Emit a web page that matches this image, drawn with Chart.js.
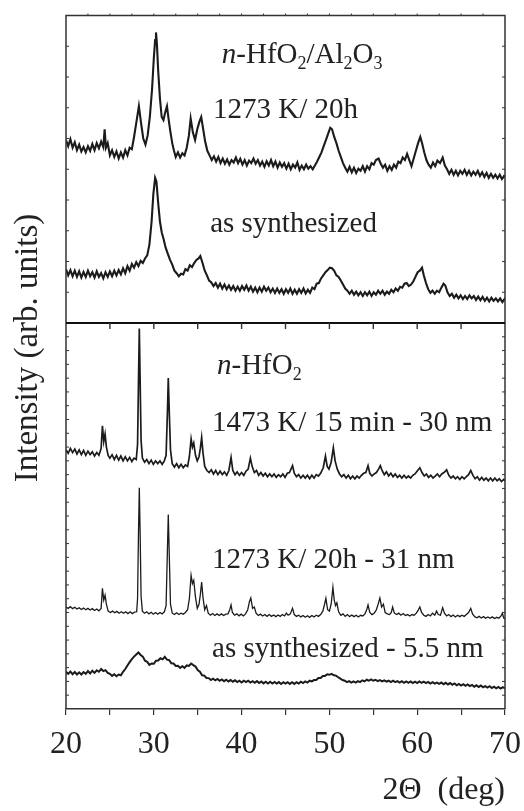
<!DOCTYPE html>
<html>
<head>
<meta charset="utf-8">
<script src="https://cdn.jsdelivr.net/npm/chart.js@4/dist/chart.umd.min.js"></script>
<style>
  html, body { margin: 0; padding: 0; background: #fff; }
  #wrap { width: 524px; height: 811px; }
</style>
</head>
<body>
<div id="wrap"><canvas id="c" width="524" height="811"></canvas></div>
<script>
// ---------------- DATA ----------------
// x: 2Θ in degrees, y: arbitrary intensity units of its panel
// Top panel (n-HfO2/Al2O3), y units 0..10
const composite1273 = [
[20.00,5.95],[20.25,5.75],[20.50,5.98],[20.75,5.70],[21.00,5.88],[21.25,5.62],[21.50,5.80],[21.75,5.58],
[22.00,5.72],[22.25,5.55],[22.50,5.75],[22.75,5.60],[23.00,5.82],[23.25,5.62],[23.50,5.85],[23.75,5.68],
[24.00,5.90],[24.25,5.72],[24.40,6.30],[24.55,5.70],[24.75,5.85],[25.00,5.45],[25.25,5.62],[25.50,5.40],
[25.75,5.58],[26.00,5.35],[26.25,5.55],[26.50,5.38],[26.75,5.62],[27.00,5.45],[27.25,5.70],[27.50,5.65],
[27.75,6.05],[28.00,6.50],[28.30,7.05],[28.55,6.50],[28.80,6.00],[29.05,5.80],[29.30,6.10],[29.55,6.70],
[29.80,7.60],[30.00,8.60],[30.15,9.20],[30.25,9.45],[30.35,9.10],[30.50,8.20],[30.70,7.30],[30.90,6.70],
[31.10,6.60],[31.30,6.85],[31.50,7.05],[31.70,6.60],[31.90,6.20],[32.10,5.85],[32.30,5.60],[32.50,5.40],
[32.75,5.55],[33.00,5.38],[33.25,5.52],[33.50,5.45],[33.75,5.70],[34.00,6.10],[34.20,6.65],[34.45,6.20],
[34.70,5.95],[34.95,6.30],[35.20,6.55],[35.40,6.70],[35.60,6.35],[35.85,5.90],[36.10,5.60],[36.35,5.45],
[36.60,5.30],[36.85,5.42],[37.10,5.25],[37.35,5.40],[37.60,5.20],[37.85,5.35],[38.10,5.18],[38.35,5.32],
[38.60,5.15],[38.85,5.30],[39.10,5.22],[39.35,5.38],[39.60,5.20],[39.85,5.34],[40.10,5.15],[40.35,5.30],
[40.60,5.12],[40.85,5.28],[41.10,5.20],[41.35,5.35],[41.60,5.18],[41.85,5.30],[42.10,5.12],[42.35,5.25],
[42.60,5.08],[42.85,5.26],[43.10,5.12],[43.35,5.30],[43.60,5.10],[43.85,5.25],[44.10,5.05],[44.35,5.22],
[44.60,5.08],[44.85,5.20],[45.10,5.02],[45.35,5.18],[45.60,5.00],[45.85,5.15],[46.10,5.05],[46.35,5.22],
[46.60,4.98],[46.85,5.12],[47.10,5.00],[47.35,5.15],[47.60,5.02],[47.85,5.10],[48.10,5.00],[48.35,5.12],
[48.60,5.25],[48.85,5.40],[49.10,5.55],[49.35,5.75],[49.60,5.95],[49.85,6.15],[50.10,6.35],[50.30,6.30],
[50.55,6.05],[50.80,5.85],[51.05,5.60],[51.30,5.40],[51.55,5.20],[51.80,5.05],[52.05,4.92],[52.30,5.08],
[52.55,4.90],[52.80,5.05],[53.05,4.88],[53.30,5.02],[53.55,4.95],[53.80,5.10],[54.05,4.92],[54.30,5.10],
[54.55,5.00],[54.80,5.20],[55.05,5.15],[55.30,5.30],[55.60,5.35],[55.85,5.18],[56.10,5.05],[56.35,5.15],
[56.60,4.95],[56.85,5.10],[57.10,4.98],[57.35,5.15],[57.60,5.05],[57.85,5.25],[58.10,5.20],[58.35,5.38],
[58.60,5.30],[58.85,5.50],[59.10,5.30],[59.35,5.10],[59.60,5.35],[59.85,5.60],[60.10,5.85],[60.35,6.05],
[60.55,5.85],[60.80,5.55],[61.05,5.30],[61.30,5.15],[61.55,5.05],[61.80,5.22],[62.05,5.10],[62.30,5.28],
[62.60,5.20],[62.90,5.38],[63.15,5.12],[63.40,5.00],[63.65,4.85],[63.90,4.98],[64.15,4.82],[64.40,4.95],
[64.65,4.80],[64.90,4.95],[65.15,4.85],[65.40,4.98],[65.65,4.82],[65.90,4.95],[66.15,4.80],[66.40,4.92],
[66.65,4.82],[66.90,4.95],[67.15,4.78],[67.40,4.90],[67.65,4.75],[67.90,4.88],[68.15,4.72],[68.40,4.85],
[68.65,4.72],[68.90,4.82],[69.15,4.70],[69.40,4.82],[69.65,4.68],[69.90,4.78],[70.00,4.75]
];
const compositeSynth = [
[20.00,1.75],[20.25,1.55],[20.50,1.72],[20.75,1.52],[21.00,1.70],[21.25,1.50],[21.50,1.68],[21.75,1.48],
[22.00,1.66],[22.25,1.50],[22.50,1.70],[22.75,1.52],[23.00,1.65],[23.25,1.48],[23.50,1.68],[23.75,1.50],
[24.00,1.62],[24.25,1.45],[24.50,1.65],[24.75,1.50],[25.00,1.68],[25.25,1.52],[25.50,1.70],[25.75,1.55],
[26.00,1.72],[26.25,1.58],[26.50,1.78],[26.75,1.62],[27.00,1.85],[27.25,1.70],[27.50,1.92],[27.75,1.80],
[28.00,1.98],[28.25,1.85],[28.50,2.02],[28.75,1.95],[29.00,2.10],[29.25,2.20],[29.50,2.55],[29.75,3.30],
[29.95,4.20],[30.15,4.72],[30.30,4.60],[30.50,3.90],[30.70,3.30],[30.90,2.95],[31.10,2.75],[31.35,2.45],
[31.60,2.25],[31.85,2.05],[32.10,1.90],[32.35,1.70],[32.60,1.62],[32.85,1.52],[33.10,1.60],[33.35,1.58],
[33.60,1.75],[33.85,1.70],[34.10,1.88],[34.35,1.82],[34.60,1.95],[34.85,2.05],[35.10,2.10],[35.30,2.18],
[35.55,1.95],[35.80,1.70],[36.05,1.55],[36.30,1.38],[36.55,1.32],[36.80,1.20],[37.05,1.30],[37.30,1.15],
[37.55,1.28],[37.80,1.12],[38.05,1.25],[38.30,1.10],[38.55,1.22],[38.80,1.08],[39.05,1.20],[39.30,1.05],
[39.55,1.18],[39.80,1.05],[40.05,1.20],[40.30,1.08],[40.55,1.22],[40.80,1.05],[41.05,1.18],[41.30,1.02],
[41.55,1.15],[41.80,1.00],[42.05,1.15],[42.30,1.02],[42.55,1.18],[42.80,1.05],[43.05,1.15],[43.30,1.00],
[43.55,1.12],[43.80,0.98],[44.05,1.12],[44.30,0.98],[44.55,1.10],[44.80,0.95],[45.05,1.10],[45.30,0.98],
[45.55,1.12],[45.80,0.95],[46.05,1.08],[46.30,0.95],[46.55,1.10],[46.80,0.98],[47.05,1.12],[47.30,0.96],
[47.55,1.08],[47.80,0.98],[48.05,1.15],[48.30,1.10],[48.55,1.28],[48.80,1.30],[49.05,1.45],[49.30,1.55],
[49.55,1.65],[49.80,1.72],[50.05,1.80],[50.30,1.78],[50.55,1.70],[50.80,1.55],[51.05,1.50],[51.30,1.38],
[51.55,1.25],[51.80,1.12],[52.05,1.05],[52.30,0.95],[52.55,1.05],[52.80,0.92],[53.05,1.02],[53.30,0.90],
[53.55,1.00],[53.80,0.88],[54.05,1.00],[54.30,0.90],[54.55,1.02],[54.80,0.88],[55.05,1.00],[55.30,0.92],
[55.55,1.05],[55.80,0.95],[56.05,1.05],[56.30,0.92],[56.55,1.02],[56.80,0.95],[57.05,1.08],[57.30,1.00],
[57.55,1.12],[57.80,1.05],[58.05,1.18],[58.30,1.15],[58.55,1.28],[58.80,1.30],[59.05,1.20],[59.30,1.25],
[59.55,1.35],[59.80,1.50],[60.05,1.65],[60.30,1.70],[60.55,1.80],[60.75,1.55],[61.00,1.30],[61.25,1.10],
[61.50,0.98],[61.75,1.05],[62.00,0.95],[62.25,1.05],[62.50,1.00],[62.75,1.15],[63.00,1.28],[63.20,1.22],
[63.45,1.00],[63.70,0.88],[63.95,0.95],[64.20,0.82],[64.45,0.92],[64.70,0.80],[64.95,0.90],[65.20,0.78],
[65.45,0.88],[65.70,0.78],[65.95,0.90],[66.20,0.80],[66.45,0.88],[66.70,0.75],[66.95,0.86],[67.20,0.74],
[67.45,0.85],[67.70,0.72],[67.95,0.82],[68.20,0.70],[68.45,0.82],[68.70,0.72],[68.95,0.80],[69.20,0.70],
[69.45,0.80],[69.70,0.68],[69.95,0.78],[70.00,0.74]
];
// Bottom panel (n-HfO2), y units 0..28
const hfo1473 = [
[20.00,18.80],[20.25,18.55],[20.50,18.90],[20.75,18.60],[21.00,18.85],[21.25,18.50],[21.50,18.80],[21.75,18.45],
[22.00,18.75],[22.25,18.40],[22.50,18.70],[22.75,18.45],[23.00,18.65],[23.25,18.35],[23.50,18.60],[23.75,18.40],
[24.00,18.90],[24.15,20.55],[24.30,19.40],[24.45,19.95],[24.60,19.00],[24.80,18.40],[25.00,18.20],[25.25,18.45],
[25.50,18.10],[25.75,18.40],[26.00,18.05],[26.25,18.35],[26.50,18.00],[26.75,18.30],[27.00,18.00],[27.25,18.25],
[27.50,17.95],[27.75,18.20],[28.00,18.10],[28.15,19.20],[28.25,23.50],[28.35,27.60],[28.45,23.50],[28.55,19.50],
[28.70,18.20],[28.95,17.90],[29.20,18.10],[29.45,17.80],[29.70,18.05],[29.95,17.75],[30.20,18.00],[30.45,17.80],
[30.70,18.00],[30.95,17.75],[31.20,18.00],[31.40,18.40],[31.55,21.50],[31.65,24.00],[31.75,21.80],[31.90,18.80],
[32.10,17.80],[32.35,17.55],[32.60,17.80],[32.85,17.50],[33.10,17.75],[33.35,17.50],[33.60,17.70],[33.85,17.60],
[34.05,18.30],[34.25,19.60],[34.40,19.00],[34.55,19.30],[34.75,18.40],[34.95,18.00],[35.15,18.30],[35.30,18.90],
[35.45,19.70],[35.60,18.60],[35.80,17.60],[36.05,17.30],[36.30,17.15],[36.55,17.35],[36.80,17.05],[37.05,17.30],
[37.30,17.00],[37.55,17.25],[37.80,17.00],[38.05,17.20],[38.30,16.95],[38.55,17.30],[38.80,18.25],[39.00,17.30],
[39.25,17.00],[39.50,17.20],[39.75,16.95],[40.00,17.15],[40.25,16.95],[40.50,17.25],[40.75,17.40],[41.00,18.20],
[41.20,17.60],[41.45,17.15],[41.70,17.30],[41.95,16.95],[42.20,17.15],[42.45,16.90],[42.70,17.10],[42.95,16.85],
[43.20,17.05],[43.45,16.85],[43.70,17.05],[43.95,16.80],[44.20,17.00],[44.45,16.85],[44.70,17.05],[44.95,16.80],
[45.20,17.10],[45.45,17.15],[45.80,17.65],[46.00,17.10],[46.25,16.85],[46.50,17.00],[46.75,16.75],[47.00,16.95],
[47.25,16.75],[47.50,16.95],[47.75,16.70],[48.00,16.95],[48.25,16.75],[48.50,17.00],[48.75,16.90],[49.00,17.10],
[49.30,17.50],[49.55,18.35],[49.75,17.60],[49.95,17.40],[50.20,17.90],[50.45,18.95],[50.65,18.00],[50.90,17.40],
[51.15,17.05],[51.40,16.85],[51.65,17.00],[51.90,16.75],[52.15,16.95],[52.40,16.70],[52.65,16.90],[52.90,16.70],
[53.15,16.90],[53.40,16.75],[53.65,16.95],[53.90,17.10],[54.15,17.15],[54.40,17.65],[54.60,17.10],[54.85,16.90],
[55.10,17.05],[55.35,17.15],[55.60,17.40],[55.80,17.65],[56.00,17.30],[56.25,17.00],[56.50,17.20],[56.75,16.90],
[57.00,17.10],[57.25,16.85],[57.50,17.05],[57.75,16.80],[58.00,16.95],[58.25,16.75],[58.50,16.95],[58.75,16.75],
[59.00,16.90],[59.25,16.75],[59.50,16.95],[59.75,17.05],[60.05,17.30],[60.30,17.50],[60.55,17.15],[60.80,16.90],
[61.05,17.05],[61.30,16.80],[61.55,16.95],[61.80,16.75],[62.05,16.90],[62.30,17.05],[62.55,16.85],[62.80,17.05],
[63.05,17.15],[63.35,17.35],[63.60,16.95],[63.85,16.75],[64.10,16.90],[64.35,16.70],[64.60,16.85],[64.85,16.65],
[65.10,16.85],[65.35,16.70],[65.60,16.85],[65.85,17.00],[66.10,17.30],[66.35,16.95],[66.60,16.70],[66.85,16.85],
[67.10,16.60],[67.35,16.80],[67.60,16.60],[67.85,16.75],[68.10,16.55],[68.35,16.75],[68.60,16.55],[68.85,16.75],
[69.10,16.55],[69.35,16.70],[69.60,16.50],[69.85,16.65],[70.00,16.55]
];
const hfo1273 = [
[20.00,7.40],[20.25,7.30],[20.50,7.42],[20.75,7.28],[21.00,7.38],[21.25,7.25],[21.50,7.35],[21.75,7.22],
[22.00,7.32],[22.25,7.20],[22.50,7.30],[22.75,7.18],[23.00,7.28],[23.25,7.15],[23.50,7.25],[23.75,7.12],
[24.00,7.30],[24.15,8.76],[24.30,7.90],[24.45,8.25],[24.60,7.60],[24.80,7.10],[25.05,7.00],[25.30,7.10],
[25.55,6.98],[25.80,7.08],[26.05,6.95],[26.30,7.05],[26.55,6.95],[26.80,7.05],[27.05,6.92],[27.30,7.05],
[27.55,6.92],[27.80,7.02],[28.05,7.05],[28.15,8.00],[28.25,12.50],[28.35,16.05],[28.45,12.50],[28.55,8.20],
[28.70,7.10],[28.95,6.95],[29.20,7.05],[29.45,6.90],[29.70,7.02],[29.95,6.88],[30.20,7.00],[30.45,6.88],
[30.70,7.00],[30.95,6.90],[31.20,7.05],[31.40,7.50],[31.55,11.50],[31.65,14.10],[31.75,11.50],[31.90,7.60],
[32.10,6.95],[32.35,6.85],[32.60,6.98],[32.85,6.85],[33.10,6.95],[33.35,6.88],[33.60,7.00],[33.85,7.20],
[34.05,8.00],[34.25,9.70],[34.40,9.10],[34.55,9.33],[34.75,8.10],[34.95,7.30],[35.15,7.60],[35.30,8.30],
[35.45,9.20],[35.60,8.10],[35.80,7.20],[36.00,7.50],[36.20,6.95],[36.45,6.80],[36.70,6.92],[36.95,6.78],
[37.20,6.90],[37.45,6.78],[37.70,6.90],[37.95,6.78],[38.20,6.88],[38.45,6.90],[38.65,7.20],[38.80,7.55],
[38.95,7.00],[39.20,6.80],[39.45,6.90],[39.70,6.76],[39.95,6.88],[40.20,6.75],[40.45,6.90],[40.70,7.20],
[40.90,7.80],[41.05,8.05],[41.25,7.30],[41.45,7.40],[41.65,6.95],[41.90,6.78],[42.15,6.88],[42.40,6.75],
[42.65,6.85],[42.90,6.72],[43.15,6.85],[43.40,6.72],[43.65,6.82],[43.90,6.70],[44.15,6.82],[44.40,6.72],
[44.65,6.85],[44.90,6.75],[45.10,6.95],[45.30,6.80],[45.55,6.90],[45.80,7.30],[46.00,6.85],[46.25,6.72],
[46.50,6.80],[46.75,6.68],[47.00,6.78],[47.25,6.66],[47.50,6.76],[47.75,6.65],[48.00,6.78],[48.25,6.68],
[48.50,6.80],[48.75,6.72],[49.00,6.85],[49.25,7.10],[49.45,7.60],[49.60,8.03],[49.80,7.20],[50.00,7.10],
[50.20,7.60],[50.40,8.83],[50.55,7.90],[50.70,7.50],[50.85,7.70],[51.05,7.05],[51.30,6.80],[51.55,6.90],
[51.80,6.72],[52.05,6.85],[52.30,6.70],[52.55,6.82],[52.80,6.70],[53.05,6.80],[53.30,6.68],[53.55,6.80],
[53.80,6.75],[54.05,6.90],[54.25,7.20],[54.40,7.55],[54.60,7.00],[54.85,6.85],[55.10,6.95],[55.35,7.20],
[55.55,7.60],[55.75,8.05],[55.95,7.40],[56.15,7.60],[56.35,7.00],[56.60,6.90],[56.85,6.85],[57.05,7.00],
[57.20,7.40],[57.40,6.95],[57.65,6.85],[57.90,6.95],[58.15,6.80],[58.40,6.92],[58.65,6.78],[58.90,6.85],
[59.15,6.75],[59.40,6.85],[59.65,6.80],[59.90,6.95],[60.10,7.15],[60.30,7.40],[60.50,7.00],[60.75,6.80],
[61.00,6.72],[61.25,6.85],[61.50,6.75],[61.75,6.95],[62.00,6.80],[62.20,7.10],[62.40,6.85],[62.65,6.80],
[62.90,7.35],[63.10,6.95],[63.35,6.75],[63.60,6.85],[63.85,6.70],[64.10,6.82],[64.35,6.68],[64.60,6.80],
[64.85,6.70],[65.10,6.80],[65.35,6.72],[65.60,6.85],[65.85,7.00],[66.10,7.30],[66.30,6.90],[66.55,6.70],
[66.80,6.62],[67.05,6.72],[67.30,6.60],[67.55,6.70],[67.80,6.58],[68.05,6.68],[68.30,6.58],[68.55,6.68],
[68.80,6.56],[69.05,6.65],[69.30,6.58],[69.55,6.75],[69.70,6.95],[69.85,6.60],[70.00,6.55]
];
const hfoSynth = [
[20.00,2.70],[20.25,2.55],[20.50,2.72],[20.75,2.52],[21.00,2.68],[21.25,2.50],[21.50,2.66],[21.75,2.50],
[22.00,2.68],[22.25,2.55],[22.50,2.75],[22.75,2.58],[23.00,2.78],[23.25,2.62],[23.50,2.80],[23.75,2.70],
[24.00,2.90],[24.25,2.75],[24.50,2.82],[24.75,2.62],[25.00,2.55],[25.25,2.40],[25.50,2.52],[25.75,2.38],
[26.00,2.50],[26.25,2.45],[26.50,2.70],[26.75,2.90],[27.00,3.15],[27.25,3.40],[27.50,3.62],[27.75,3.80],
[28.00,3.95],[28.25,4.10],[28.50,3.92],[28.75,3.80],[29.00,3.50],[29.25,3.42],[29.50,3.20],[29.75,3.30],
[30.00,3.28],[30.25,3.50],[30.50,3.52],[30.75,3.68],[31.00,3.60],[31.25,3.78],[31.50,3.58],[31.75,3.55],
[32.00,3.32],[32.25,3.30],[32.50,3.12],[32.75,3.14],[33.00,2.98],[33.25,3.10],[33.50,2.98],[33.75,3.16],
[34.00,3.12],[34.25,3.30],[34.50,3.18],[34.75,3.08],[35.00,2.82],[35.25,2.70],[35.50,2.45],[35.75,2.42],
[36.00,2.25],[36.25,2.24],[36.50,2.10],[36.75,2.20],[37.00,2.08],[37.25,2.18],[37.50,2.05],[37.75,2.15],
[38.00,2.02],[38.25,2.12],[38.50,2.00],[38.75,2.10],[39.00,1.98],[39.25,2.08],[39.50,1.95],[39.75,2.05],
[40.00,1.92],[40.25,2.05],[40.50,1.95],[40.75,2.05],[41.00,1.92],[41.25,2.02],[41.50,1.90],[41.75,2.02],
[42.00,1.88],[42.25,2.00],[42.50,1.86],[42.75,1.98],[43.00,1.85],[43.25,1.98],[43.50,1.85],[43.75,1.96],
[44.00,1.84],[44.25,1.95],[44.50,1.82],[44.75,1.95],[45.00,1.85],[45.25,1.95],[45.50,1.82],[45.75,1.94],
[46.00,1.82],[46.25,1.95],[46.50,1.85],[46.75,1.98],[47.00,1.88],[47.25,2.00],[47.50,1.92],[47.75,2.05],
[48.00,2.00],[48.25,2.10],[48.50,2.10],[48.75,2.25],[49.00,2.25],[49.25,2.40],[49.50,2.40],[49.75,2.52],
[50.00,2.48],[50.25,2.55],[50.50,2.45],[50.75,2.42],[51.00,2.30],[51.25,2.20],[51.50,2.10],[51.75,2.05],
[52.00,1.95],[52.25,2.02],[52.50,1.92],[52.75,2.00],[53.00,1.92],[53.25,2.02],[53.50,1.95],[53.75,2.08],
[54.00,2.00],[54.25,2.12],[54.50,2.05],[54.75,2.15],[55.00,2.05],[55.25,2.12],[55.50,2.02],[55.75,2.10],
[56.00,2.00],[56.25,2.08],[56.50,1.98],[56.75,2.05],[57.00,1.95],[57.25,2.05],[57.50,1.95],[57.75,2.02],
[58.00,1.92],[58.25,2.02],[58.50,1.90],[58.75,2.00],[59.00,1.90],[59.25,2.00],[59.50,1.88],[59.75,1.98],
[60.00,1.88],[60.25,2.00],[60.50,1.90],[60.75,1.98],[61.00,1.88],[61.25,1.96],[61.50,1.85],[61.75,1.95],
[62.00,1.85],[62.25,1.92],[62.50,1.82],[62.75,1.92],[63.00,1.80],[63.25,1.90],[63.50,1.78],[63.75,1.88],
[64.00,1.75],[64.25,1.85],[64.50,1.72],[64.75,1.82],[65.00,1.70],[65.25,1.80],[65.50,1.68],[65.75,1.78],
[66.00,1.66],[66.25,1.75],[66.50,1.62],[66.75,1.72],[67.00,1.60],[67.25,1.70],[67.50,1.58],[67.75,1.66],
[68.00,1.55],[68.25,1.65],[68.50,1.52],[68.75,1.62],[69.00,1.50],[69.25,1.60],[69.50,1.48],[69.75,1.58],
[70.00,1.50]
];

const xTickLabels = [20, 30, 40, 50, 60, 70];
const seriesNames = ['1273 K/ 20h', 'as synthesized', '1473 K/ 15 min - 30 nm', '1273 K/ 20h - 31 nm', 'as synthesized - 5.5 nm'];
const topTitle = [['n','i'],['-HfO',''],['2','s'],['/Al',''],['2','s'],['O',''],['3','s']];
const bottomTitle = [['n','i'],['-HfO',''],['2','s']];
const xTitle = '2\u0398  (deg)';
const yTitle = 'Intensity (arb. units)';

// ---------------- LAYOUT / STYLE ----------------
const TOP_UNITS = 10, BOT_UNITS = 28;
const TOP_PX = 307.5, BOT_PX = 386;          // panel heights in px
const topMin = -BOT_PX / (TOP_PX / TOP_UNITS);
const botMax = BOT_UNITS + TOP_PX / (BOT_PX / BOT_UNITS);
const SERIF = '"Liberation Serif", "Times New Roman", serif';
const INK = '#1b1b1b';

function toXY(arr) { return arr.map(p => ({ x: p[0], y: p[1] })); }

// label placement in data coordinates (x in deg, y in panel units)
const labelPlacement = [
  { rich: topTitle,    x: 37.75, y: 8.44, axis: 'yTop' },
  { text: seriesNames[0], x: 36.74, y: 6.66, axis: 'yTop' },
  { text: seriesNames[1], x: 36.42, y: 2.95, axis: 'yTop' },
  { rich: bottomTitle, x: 37.20, y: 24.31, axis: 'yBot' },
  { text: seriesNames[2], x: 36.63, y: 20.19, axis: 'yBot' },
  { text: seriesNames[3], x: 36.63, y: 10.20, axis: 'yBot' },
  { text: seriesNames[4], x: 36.63, y: 3.76, axis: 'yBot' }
];

const panelPlugin = {
  id: 'panels',
  afterDraw(chart) {
    const { ctx, chartArea: a, scales } = chart;
    const sx = scales.x, yt = scales.yTop, yb = scales.yBot;
    const midY = yt.getPixelForValue(0);
    const line = (x1, y1, x2, y2) => { ctx.beginPath(); ctx.moveTo(x1, y1); ctx.lineTo(x2, y2); ctx.stroke(); };
    ctx.save();
    ctx.strokeStyle = '#333';
    ctx.lineWidth = 1.5;
    ctx.beginPath();
    ctx.moveTo(a.left, a.bottom); ctx.lineTo(a.left, a.top); ctx.lineTo(a.right, a.top); ctx.lineTo(a.right, a.bottom);
    ctx.stroke();
    ctx.strokeStyle = '#111';
    ctx.lineWidth = 2.2;
    line(a.left, midY, a.right, midY);
    // y ticks, inward on both spines
    ctx.strokeStyle = '#333';
    ctx.lineWidth = 1;
    for (let v = 1; v < TOP_UNITS; v++) {
      const p = yt.getPixelForValue(v);
      line(a.left, p, a.left + 3, p); line(a.right, p, a.right - 3, p);
    }
    for (let v = 1; v < BOT_UNITS; v++) {
      const p = yb.getPixelForValue(v);
      line(a.left, p, a.left + 3, p); line(a.right, p, a.right - 3, p);
    }
    // ticks on the divider (pointing down) and tiny ticks on top edge
    ctx.lineWidth = 1.4;
    for (let d = 25; d < 70; d += 5) {
      const px = sx.getPixelForValue(d);
      line(px, midY, px, midY + 6);
    }
    ctx.lineWidth = 1;
    for (let d = 22.5; d < 70; d += 2.5) {
      const px = sx.getPixelForValue(d);
      line(px, a.top, px, a.top - 2);
    }
    // y title
    ctx.fillStyle = '#222';
    ctx.font = '33px ' + SERIF;
    ctx.textAlign = 'center';
    ctx.textBaseline = 'alphabetic';
    ctx.save();
    ctx.translate(36.5, 348);
    ctx.rotate(-Math.PI / 2);
    ctx.fillText(yTitle, 0, 0);
    ctx.restore();
    // annotations
    ctx.textAlign = 'left';
    for (const lab of labelPlacement) {
      let x = sx.getPixelForValue(lab.x);
      const y = scales[lab.axis].getPixelForValue(lab.y);
      if (lab.text) {
        ctx.font = '29px ' + SERIF;
        ctx.fillText(lab.text, x, y);
      } else {
        for (const [t, kind] of lab.rich) {
          if (kind === 's') {
            ctx.font = '18px ' + SERIF;
            ctx.fillText(t, x, y + 6);
          } else {
            ctx.font = (kind === 'i' ? 'italic ' : '') + '29px ' + SERIF;
            ctx.fillText(t, x, y);
          }
          x += ctx.measureText(t).width;
        }
      }
    }
    ctx.restore();
  }
};

function ds(label, arr, axis, width) {
  return {
    label, data: toXY(arr), yAxisID: axis,
    borderColor: INK, borderWidth: width, pointRadius: 0, tension: 0, fill: false,
    borderJoinStyle: 'miter'
  };
}

new Chart(document.getElementById('c'), {
  type: 'line',
  data: {
    datasets: [
      ds(seriesNames[0], composite1273, 'yTop', 2.1),
      ds(seriesNames[1], compositeSynth, 'yTop', 2.1),
      ds(seriesNames[2], hfo1473, 'yBot', 1.7),
      ds(seriesNames[3], hfo1273, 'yBot', 1.3),
      ds(seriesNames[4], hfoSynth, 'yBot', 2.0)
    ]
  },
  options: {
    responsive: false,
    animation: false,
    devicePixelRatio: 1,
    layout: { padding: { left: 66, right: 19, top: 15.5, bottom: 0 } },
    plugins: { legend: { display: false }, tooltip: { enabled: false } },
    scales: {
      x: {
        type: 'linear', min: 20, max: 70,
        afterFit(s) { s.height = 102; s.paddingLeft = 0; s.paddingRight = 0; },
        border: { display: true, color: '#333', width: 1.5 },
        grid: { drawOnChartArea: false, drawTicks: true, tickLength: 6, color: '#333', lineWidth: 1.2 },
        ticks: {
          stepSize: 5, autoSkip: false, maxRotation: 0, padding: 10,
          color: '#222', font: { family: SERIF, size: 32 },
          callback: v => xTickLabels.includes(v) ? String(v) : ''
        },
        title: {
          display: true, text: xTitle, align: 'end', color: '#222',
          font: { family: SERIF, size: 32 }, padding: { top: 0, bottom: 1 }
        }
      },
      yTop: { type: 'linear', position: 'left', display: false, min: topMin, max: TOP_UNITS },
      yBot: { type: 'linear', position: 'left', display: false, min: 0, max: botMax }
    }
  },
  plugins: [panelPlugin]
});
</script>
</body>
</html>
